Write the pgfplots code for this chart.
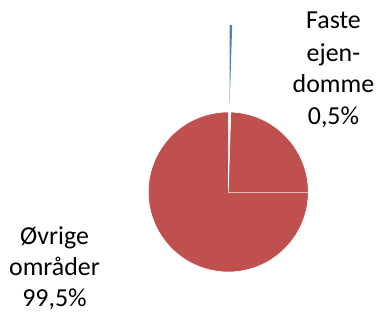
\documentclass[border=0pt]{standalone}
\usepackage{pgfplots}
\usepackage{pgfplotstable}
\usetikzlibrary{calc}
\usepackage{fontspec}
\setmainfont{Carlito}
\pgfplotsset{compat=1.18}
\definecolor{exred}{RGB}{192,80,77}
\definecolor{exblue}{RGB}{79,129,189}
\tikzset{lbl/.style={font=\fontsize{26}{31}\selectfont, inner sep=0pt, anchor=base}}
\pgfplotstableread{
label value
Faste 0.5
Ovrige 99.5
}\piedata
\begin{document}
\begin{tikzpicture}
\pgfplotstablegetelem{0}{value}\of\piedata \let\va\pgfplotsretval
\pgfplotstablegetelem{1}{value}\of\piedata \let\vb\pgfplotsretval
\pgfmathsetmacro{\aend}{90-3.6*\va}
\pgfmathsetmacro{\amid}{90-1.8*\va}
\pgfkeys{/pgf/number format/.cd, use comma, fixed, precision=1, fixed zerofill, assume math mode=true}
\begin{axis}[
  width=376bp, height=313bp, scale only axis,
  xmin=0, xmax=376, ymin=0, ymax=313,
  hide axis, clip=false,
]
\path (axis cs:0,0) rectangle (axis cs:376,313);
% red slice (99.5%)
\fill[exred, draw=white, line width=0.6bp] (axis cs:228.3,121) -- ++(\aend:80bp) arc[start angle=\aend, end angle=-270, radius=80bp] -- cycle;
\draw[white, opacity=0.6, line width=0.6bp] (axis cs:228.3,121) -- (axis cs:308.3,121);
% blue slice (0.5%), exploded
\fill[exblue] ($(axis cs:228.3,121)+(\amid:87bp)$) -- ++(90:80bp) arc[start angle=90, end angle=\aend, radius=80bp] -- cycle;
\node[lbl] at (axis cs:333.5,284) {Faste};
\node[lbl] at (axis cs:333.5,251) {ejen-};
\node[lbl] at (axis cs:333.5,220) {domme};
\node[lbl] at (axis cs:333.5,188) {\pgfmathprintnumber{\va}\%};
\node[lbl] at (axis cs:54.5,68) {Øvrige};
\node[lbl] at (axis cs:54.5,37) {områder};
\node[lbl] at (axis cs:54.5,6.5) {\pgfmathprintnumber{\vb}\%};
\end{axis}
\end{tikzpicture}
\end{document}
